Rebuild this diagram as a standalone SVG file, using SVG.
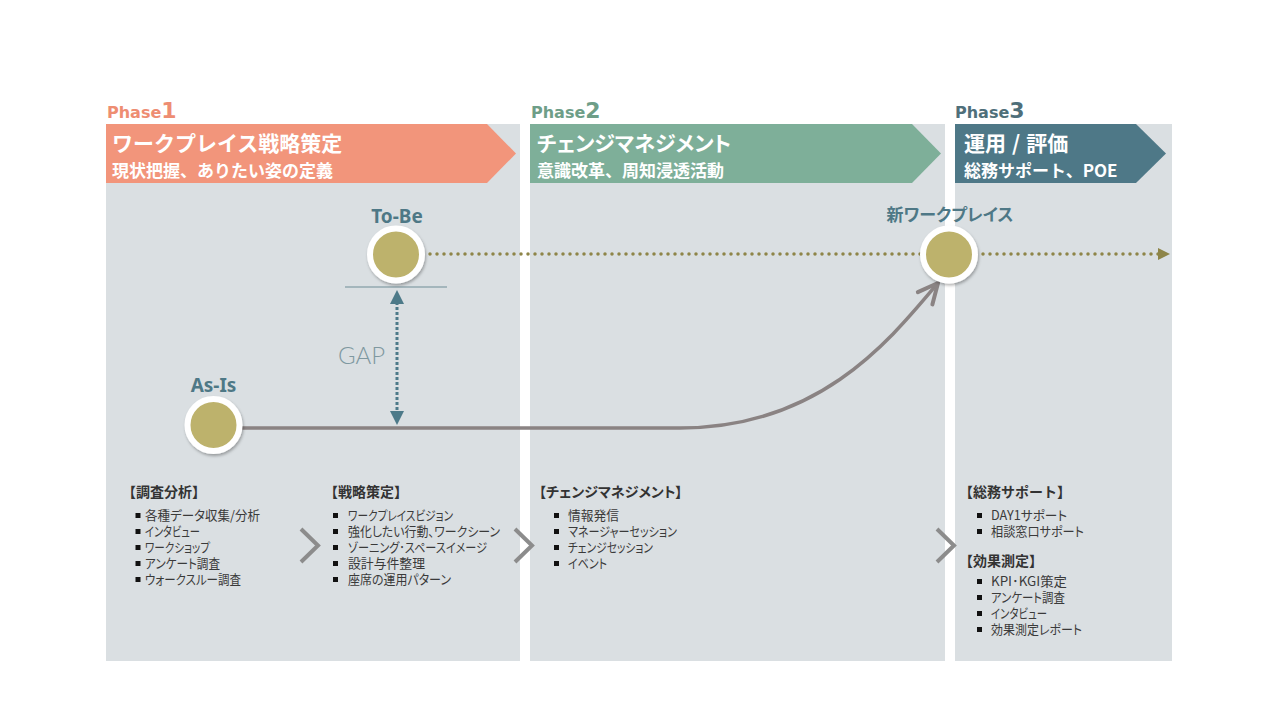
<svg xmlns="http://www.w3.org/2000/svg" width="1280" height="720" viewBox="0 0 1280 720">
<defs>
<style>
.panel{fill:#DADFE2}
.title{font-family:"Noto Sans CJK JP",sans-serif;font-size:21px;font-weight:bold;fill:#fff}
.sub{font-family:"Noto Sans CJK JP",sans-serif;font-size:17px;font-weight:bold;fill:#fff}
.ph{font-family:"DejaVu Sans",sans-serif;font-weight:bold;font-size:16px}
.phn{font-size:22px}
.hd{font-family:"Noto Sans CJK JP",sans-serif;font-size:14px;font-weight:bold;fill:#333}
.it{font-family:"Noto Sans CJK JP",sans-serif;font-size:13px;fill:#3a3a3a;font-feature-settings:"palt"}
.bl{fill:#111}
.lbl{font-family:"Noto Sans","Noto Sans CJK JP",sans-serif;font-size:19px;font-weight:bold;fill:#4E7886;text-anchor:middle}
.lblj{font-family:"Noto Sans CJK JP",sans-serif;font-size:17px;font-weight:bold;fill:#4E7886;text-anchor:middle;font-feature-settings:"palt"}
.node circle{fill:#BDB26C;stroke:#fff;stroke-width:6;filter:url(#sh)}
.chev{fill:none;stroke:#8C8C8C;stroke-width:4}
</style>
<filter id="sh" x="-30%" y="-30%" width="160%" height="160%">
<feDropShadow dx="1" dy="2" stdDeviation="1.5" flood-color="#000" flood-opacity="0.3"/>
</filter>
<marker id="olv" markerUnits="userSpaceOnUse" markerWidth="14" markerHeight="12" refX="2" refY="6" orient="auto">
<path d="M0,0 L12,6 L0,12 Z" fill="#8E8548"/>
</marker>
<marker id="gap" markerUnits="userSpaceOnUse" markerWidth="14" markerHeight="14" refX="2" refY="7" orient="auto-start-reverse">
<path d="M0,0 L14,7 L0,14 Z" fill="#4D7A89"/>
</marker>
<marker id="opn" markerUnits="userSpaceOnUse" markerWidth="30" markerHeight="30" refX="22" refY="15" orient="auto" overflow="visible">
<path d="M2,5.5 L22,15 L2,24.5" fill="none" stroke="#8A8383" stroke-width="4" stroke-linecap="round" stroke-linejoin="round"/>
</marker>
</defs>
<rect width="1280" height="720" fill="#fff"/>

<g id="panels">
<rect class="panel" x="106" y="124" width="414" height="537"/>
<rect class="panel" x="530" y="124" width="415" height="537"/>
<rect class="panel" x="955" y="124" width="217" height="537"/>
</g>

<g id="phase1">
<text class="ph" x="107" y="118" fill="#EE8D72">Phase<tspan class="phn">1</tspan></text>
<polygon points="106,124 487,124 516,153.5 487,183 106,183" fill="#F2957B"/>
<text class="title" x="112" y="151">ワークプレイス戦略策定</text>
<text class="sub" x="112" y="177">現状把握、ありたい姿の定義</text>
</g>
<g id="phase2">
<text class="ph" x="531" y="118" fill="#6E9E88">Phase<tspan class="phn">2</tspan></text>
<polygon points="530,124 912,124 941,153.5 912,183 530,183" fill="#7EAF99"/>
<text class="title" x="537" y="151" style="font-feature-settings:'palt'">チェンジマネジメント</text>
<text class="sub" x="537" y="177">意識改革、周知浸透活動</text>
</g>
<g id="phase3">
<text class="ph" x="955" y="118" fill="#4F6F7A">Phase<tspan class="phn">3</tspan></text>
<polygon points="955,124 1136,124 1166,153.5 1136,183 955,183" fill="#4E7887"/>
<text class="title" x="964" y="151">運用<tspan dx="6">/</tspan><tspan dx="6">評価</tspan></text>
<text class="sub" x="964" y="177">総務サポート、POE</text>
</g>

<g id="connectors">
<line x1="430" y1="254" x2="1160" y2="254" stroke="#8E8548" stroke-width="3.5" stroke-linecap="round" stroke-dasharray="0 7" marker-end="url(#olv)"/>
<path d="M240,428 L680,428 C820,428 890,340 938,283" fill="none" stroke="#8A8383" stroke-width="3.5" marker-end="url(#opn)"/>
<line x1="345" y1="287" x2="447" y2="287" stroke="#6F8D96" stroke-width="1.2"/>
<line x1="397" y1="302" x2="397" y2="413" stroke="#4D7A89" stroke-width="3" stroke-dasharray="3 2" marker-start="url(#gap)" marker-end="url(#gap)"/>
<text x="338" y="364" font-family="Lato,'Open Sans',sans-serif" font-weight="300" font-size="24" fill="#7F98A0">GAP</text>
</g>

<g id="tobe" class="node">
<circle cx="396" cy="254.5" r="26"/>
<text class="lbl" x="397" y="223">To-Be</text>
</g>
<g id="asis" class="node">
<circle cx="213.5" cy="425" r="26"/>
<text class="lbl" x="213.5" y="392">As-Is</text>
</g>
<g id="newwp" class="node">
<circle cx="949" cy="254.5" r="26"/>
<text class="lblj" x="950" y="221">新ワークプレイス</text>
</g>

<g id="chevrons">
<polyline class="chev" points="301,529 318,545.5 301,562"/>
<polyline class="chev" points="515,529 532,545.5 515,562"/>
<polyline class="chev" points="937,529 954,545.5 937,562"/>
</g>

<g id="list1">
<text class="hd" x="122" y="497">【調査分析】</text>
<rect class="bl" x="135.5" y="513" width="5" height="5"/><text class="it" x="145" y="520" textLength="115" lengthAdjust="spacingAndGlyphs">各種データ収集/分析</text>
<rect class="bl" x="135.5" y="529" width="5" height="5"/><text class="it" x="145" y="536" textLength="55" lengthAdjust="spacingAndGlyphs">インタビュー</text>
<rect class="bl" x="135.5" y="545" width="5" height="5"/><text class="it" x="145" y="552" textLength="65" lengthAdjust="spacingAndGlyphs">ワークショップ</text>
<rect class="bl" x="135.5" y="561" width="5" height="5"/><text class="it" x="145" y="568" textLength="75" lengthAdjust="spacingAndGlyphs">アンケート調査</text>
<rect class="bl" x="135.5" y="577" width="5" height="5"/><text class="it" x="145" y="584" textLength="96" lengthAdjust="spacingAndGlyphs">ウォークスルー調査</text>
</g>
<g id="list2">
<text class="hd" x="324" y="497">【戦略策定】</text>
<rect class="bl" x="333" y="513" width="5" height="5"/><text class="it" x="348" y="520" textLength="105" lengthAdjust="spacingAndGlyphs">ワークプレイスビジョン</text>
<rect class="bl" x="333" y="529" width="5" height="5"/><text class="it" x="348" y="536" textLength="152" lengthAdjust="spacingAndGlyphs">強化したい行動、ワークシーン</text>
<rect class="bl" x="333" y="545" width="5" height="5"/><text class="it" x="348" y="552" textLength="139" lengthAdjust="spacingAndGlyphs">ゾーニング･スペースイメージ</text>
<rect class="bl" x="333" y="561" width="5" height="5"/><text class="it" x="348" y="568" textLength="77" lengthAdjust="spacingAndGlyphs">設計与件整理</text>
<rect class="bl" x="333" y="577" width="5" height="5"/><text class="it" x="348" y="584" textLength="103" lengthAdjust="spacingAndGlyphs">座席の運用パターン</text>
</g>
<g id="list3">
<text class="hd" x="539" y="497" style="font-feature-settings:'palt'">【チェンジマネジメント】</text>
<rect class="bl" x="554" y="513" width="5" height="5"/><text class="it" x="568" y="520" textLength="51" lengthAdjust="spacingAndGlyphs">情報発信</text>
<rect class="bl" x="554" y="529" width="5" height="5"/><text class="it" x="568" y="536" textLength="109" lengthAdjust="spacingAndGlyphs">マネージャーセッション</text>
<rect class="bl" x="554" y="545" width="5" height="5"/><text class="it" x="568" y="552" textLength="85" lengthAdjust="spacingAndGlyphs">チェンジセッション</text>
<rect class="bl" x="554" y="561" width="5" height="5"/><text class="it" x="568" y="568" textLength="39" lengthAdjust="spacingAndGlyphs">イベント</text>
</g>
<g id="list4">
<text class="hd" x="959" y="497">【総務サポート】</text>
<rect class="bl" x="977" y="513" width="5" height="5"/><text class="it" x="991" y="520" textLength="76" lengthAdjust="spacingAndGlyphs">DAY1サポート</text>
<rect class="bl" x="977" y="529" width="5" height="5"/><text class="it" x="991" y="536" textLength="93" lengthAdjust="spacingAndGlyphs">相談窓口サポート</text>
<text class="hd" x="959" y="566">【効果測定】</text>
<rect class="bl" x="977" y="579" width="5" height="5"/><text class="it" x="991" y="586" textLength="76" lengthAdjust="spacingAndGlyphs">KPI･KGI策定</text>
<rect class="bl" x="977" y="595" width="5" height="5"/><text class="it" x="991" y="602" textLength="74" lengthAdjust="spacingAndGlyphs">アンケート調査</text>
<rect class="bl" x="977" y="611" width="5" height="5"/><text class="it" x="991" y="618" textLength="56" lengthAdjust="spacingAndGlyphs">インタビュー</text>
<rect class="bl" x="977" y="627" width="5" height="5"/><text class="it" x="991" y="634" textLength="91" lengthAdjust="spacingAndGlyphs">効果測定レポート</text>
</g>
</svg>
